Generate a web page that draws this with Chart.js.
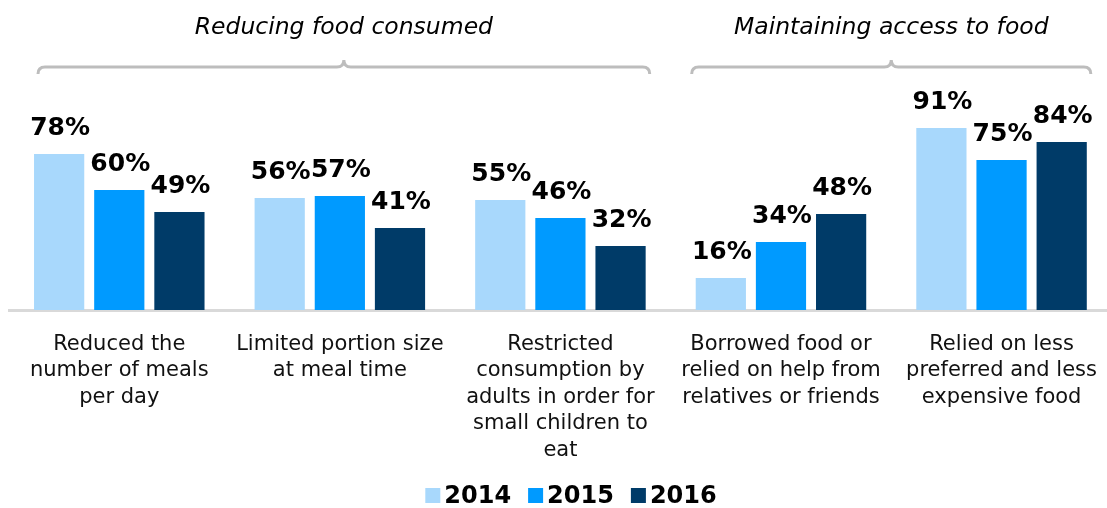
<!DOCTYPE html>
<html><head><meta charset="utf-8">
<script src="https://cdn.jsdelivr.net/npm/chart.js@4/dist/chart.umd.min.js"></script>
<style>html,body{margin:0;padding:0;background:#fff;overflow:hidden;}#wrap{width:1107px;height:508px;position:relative;overflow:hidden;}</style>
</head><body><div id="wrap"><canvas id="c" width="1118" height="508"></canvas></div>
<script>
const categories = [
  ["Reduced the","number of meals","per day"],
  ["Limited portion size","at meal time"],
  ["Restricted","consumption by","adults in order for","small children to","eat"],
  ["Borrowed food or","relied on help from","relatives or friends"],
  ["Relied on less","preferred and less","expensive food"]
];
const seriesNames = ["2014","2015","2016"];
const values2014 = [78, 56, 55, 16, 91];
const values2015 = [60, 57, 46, 34, 75];
const values2016 = [49, 41, 32, 48, 84];
const groupTitles = ["Reducing food consumed","Maintaining access to food"];
const groupRanges = [[0,2],[3,4]];
const colors = ["#a8d8fc","#009aff","#003b68"];
const FONT = "'DejaVu Sans', Verdana, sans-serif";

const overlay = {
  id:'overlay',
  afterDatasetsDraw(chart){
    const ctx = chart.ctx;
    ctx.save();
    // data labels
    ctx.font = "bold 25px " + FONT;
    ctx.fillStyle = "#000";
    ctx.textAlign = "center";
    ctx.textBaseline = "alphabetic";
    chart.data.datasets.forEach((ds, di) => {
      const meta = chart.getDatasetMeta(di);
      meta.data.forEach((bar, i) => {
        ctx.fillText(ds.data[i] + "%", bar.x + 1, bar.y - 19);
      });
    });
    // braces and titles
    const xs = chart.scales.x;
    const half = (xs.getPixelForValue(1) - xs.getPixelForValue(0)) / 2;
    const offs = [[29, -21], [21, -21]];
    groupRanges.forEach((r, gi) => {
      const x0 = xs.getPixelForValue(r[0]) - half + offs[gi][0];
      const x1 = xs.getPixelForValue(r[1]) + half + offs[gi][1];
      const xm = (x0 + x1) / 2;
      const y = 67, rad = 7;
      ctx.strokeStyle = "#bdbdbd";
      ctx.lineWidth = 3;
      ctx.beginPath();
      ctx.moveTo(x0, y + rad);
      ctx.quadraticCurveTo(x0, y, x0 + rad, y);
      ctx.lineTo(xm - rad, y);
      ctx.quadraticCurveTo(xm, y, xm, y - rad);
      ctx.quadraticCurveTo(xm, y, xm + rad, y);
      ctx.lineTo(x1 - rad, y);
      ctx.quadraticCurveTo(x1, y, x1, y + rad);
      ctx.stroke();
      ctx.font = "italic 23.5px " + FONT;
      ctx.fillStyle = "#000";
      ctx.textAlign = "center";
      ctx.fillText(groupTitles[gi], xm, 34);
    });
    // legend
    ctx.font = "bold 24px " + FONT;
    const gap = 17, box = 15, bgap = 4;
    const widths = seriesNames.map(s => ctx.measureText(s).width);
    const total = widths.reduce((a,b)=>a+b,0) + seriesNames.length*(box+bgap) + gap*(seriesNames.length-1);
    let lx = 571 - total/2;
    const ly = 496;
    ctx.textAlign = "left";
    ctx.textBaseline = "middle";
    seriesNames.forEach((s, i) => {
      ctx.fillStyle = colors[i];
      ctx.fillRect(lx, ly - 8, box, box);
      lx += box + bgap;
      ctx.fillStyle = "#000";
      ctx.fillText(s, lx, ly + 1);
      lx += widths[i] + gap;
    });
    ctx.restore();
  }
};

new Chart(document.getElementById('c'), {
  type: 'bar',
  data: {
    labels: categories,
    datasets: [values2014, values2015, values2016].map((v, i) => ({
      label: seriesNames[i], data: v, backgroundColor: colors[i],
      categoryPercentage: 0.818, barPercentage: 0.835
    }))
  },
  options: {
    responsive: false, animation: false,
    layout: { padding: { left: 9, right: 0, top: 110, bottom: 0 } },
    plugins: { legend: { display: false }, tooltip: { enabled: false } },
    scales: {
      y: { display: false, min: 0, max: 100 },
      x: {
        grid: { display: false, drawTicks: false },
        border: { display: true, color: "#d9d9d9", width: 3 },
        ticks: { color: "#111", font: { family: FONT, size: 21, lineHeight: 1.26 }, padding: 21, maxRotation: 0, autoSkip: false },
        afterFit(s){ s.height = 198; }
      }
    }
  },
  plugins: [overlay]
});
</script></body></html>
